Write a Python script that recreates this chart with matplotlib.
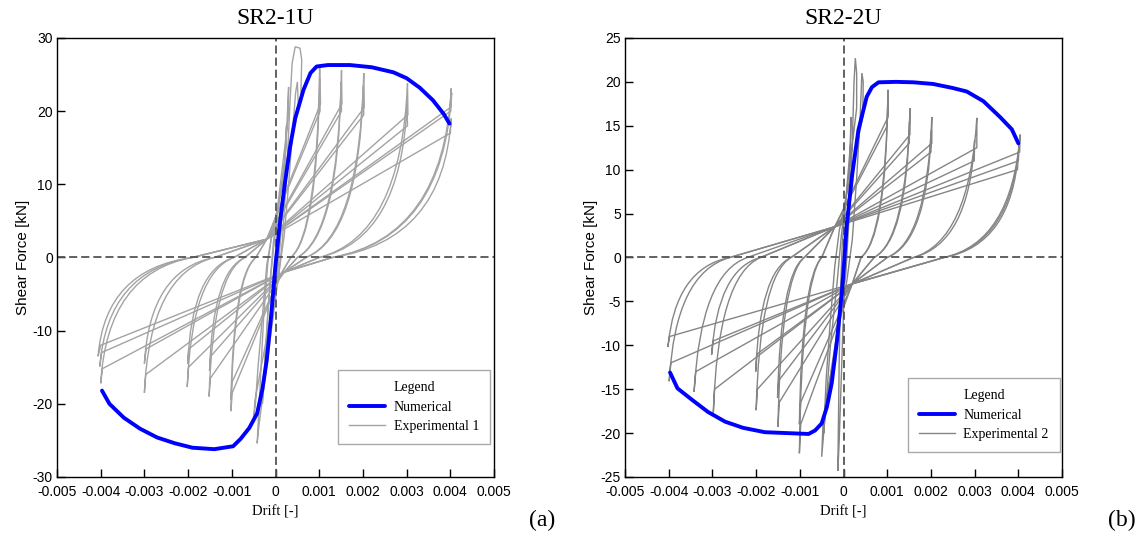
import numpy as np
import matplotlib
matplotlib.use("Agg")
import matplotlib.pyplot as plt
from matplotlib.path import Path
from matplotlib.patches import PathPatch

plt.rcParams['font.family'] = ['Liberation Sans', 'DejaVu Sans']
plt.rcParams['axes.unicode_minus'] = False

SERIF = ['Liberation Serif', 'DejaVu Serif']

# drift values are in 1e-3 (per mille), forces in kN
xticks = [-0.005, -0.004, -0.003, -0.002, -0.001, 0, 0.001, 0.002, 0.003, 0.004, 0.005]
xtick_labels = ['-0.005', '-0.004', '-0.003', '-0.002', '-0.001', '0',
                '0.001', '0.002', '0.003', '0.004', '0.005']
yticks_1 = [-30, -20, -10, 0, 10, 20, 30]
yticks_2 = [-25, -20, -15, -10, -5, 0, 5, 10, 15, 20, 25]

# SR2-1U numerical backbone
num1_drift = [-3.97, -3.8, -3.47, -3.1, -2.71, -2.3, -1.9, -1.4, -0.97, -0.8, -0.6, -0.42,
              -0.3, -0.2, -0.1, 0.0, 0.1, 0.2, 0.33, 0.45, 0.64, 0.8, 0.94, 1.2, 1.7,
              2.2, 2.7, 3.0, 3.3, 3.6, 3.85, 3.98]
num1_force = [-18.2, -20.0, -21.9, -23.4, -24.6, -25.4, -26.0, -26.2, -25.8, -24.8, -23.3,
              -21.3, -18.0, -14.0, -8.0, -1.0, 4.7, 9.5, 15.0, 19.0, 22.9, 25.2, 26.1, 26.3,
              26.3, 26.0, 25.3, 24.5, 23.2, 21.5, 19.6, 18.3]

# SR2-2U numerical backbone
num2_drift = [-3.97, -3.8, -3.47, -3.1, -2.71, -2.3, -1.8, -1.3, -0.8, -0.65, -0.5, -0.38,
              -0.27, -0.15, -0.04, 0.0, 0.07, 0.2, 0.34, 0.53, 0.65, 0.8, 1.2, 1.6, 2.05,
              2.5, 2.82, 3.2, 3.58, 3.85, 4.0]
num2_force = [-13.1, -14.9, -16.2, -17.6, -18.7, -19.4, -19.9, -20.0, -20.1, -19.7, -18.9,
              -17.0, -14.3, -9.5, -4.0, -1.5, 3.5, 9.5, 14.5, 18.3, 19.4, 19.95, 20.0, 19.95,
              19.76, 19.3, 18.9, 17.8, 16.0, 14.6, 13.0]

# experimental cycles: (drift, force) vertices; a third item 'c' marks a curve control point
exp1_cycles = [
    [(0.04, -1.5), (0.1, 2), (0.17, 8), (0.22, 14), (0.25, 18), (0.24, 15), (-0.04, 1.5),
     (-0.1, -2), (-0.17, -7), (-0.22, -12), (-0.25, -15), (-0.23, -12.5), (0.04, -1.5)],
    [(0.05, -2), (0.12, 3), (0.2, 11), (0.26, 18), (0.3, 23.3), (0.29, 19), (-0.05, 2),
     (-0.12, -3), (-0.2, -10), (-0.26, -16), (-0.3, -20), (-0.28, -17), (0.05, -2)],
    [(0.08, -2), (0.16, 2.5), (0.26, 12), (0.33, 21), (0.38, 26.5), (0.45, 28.8), (0.56, 28.6),
     (0.6, 27), (0.58, 22), (-0.1, 2.5), (-0.18, -1), (-0.27, -8), (-0.34, -16), (-0.39, -22),
     (-0.42, -25.4), (-0.38, -23), (0.08, -2)],
    [(0.08, -2), (0.2, 3), (0.3, 10), (0.4, 18), (0.46, 22.5), (0.5, 24), (0.52, 21), (-0.1, 2.5),
     (-0.2, -1), (-0.3, -8), (-0.4, -15), (-0.46, -20), (-0.5, -22), (-0.47, -19.5), (0.08, -2)],
    [(0.15, -2), (0.35, 0), (0.96, 3.2, 'c'), (1.01, 26.3), (1.03, 21), (-0.2, 2.5), (-0.45, 0),
     (-0.96, -2.5, 'c'), (-1.02, -21), (-0.99, -18.5), (0.15, -2)],
    [(0.15, -2), (0.35, 0), (0.96, 2.9, 'c'), (1.01, 24.5), (1.02, 20), (-0.2, 2.5), (-0.45, 0),
     (-0.96, -2.3, 'c'), (-1.02, -19.5), (-0.99, -17), (0.15, -2)],
    [(0.2, -2), (0.5, 0), (1.44, 3.1, 'c'), (1.51, 25.6), (1.52, 21), (-0.2, 2.5), (-0.7, 0),
     (-1.44, -2.3, 'c'), (-1.52, -19), (-1.49, -16.5), (0.2, -2)],
    [(0.2, -2), (0.5, 0), (1.44, 2.9, 'c'), (1.5, 24), (1.51, 20), (-0.2, 2.5), (-0.7, 0),
     (-1.44, -1.9, 'c'), (-1.51, -15.5), (-1.48, -13.5), (0.2, -2)],
    [(0.2, -2), (0.7, 0), (1.92, 3.0, 'c'), (2.02, 25.2), (2.03, 20.5), (-0.2, 2.5), (-0.95, 0),
     (-1.92, -2.1, 'c'), (-2.02, -17.7), (-1.99, -15), (0.2, -2)],
    [(0.2, -2), (0.7, 0), (1.92, 2.8, 'c'), (2.01, 23.5), (2.02, 19.5), (-0.2, 2.5), (-0.95, 0),
     (-1.92, -1.7, 'c'), (-2.01, -14.5), (-1.98, -12.5), (0.2, -2)],
    [(0.2, -2), (1.0, 0), (2.88, 2.9, 'c'), (3.02, 23.8), (3.03, 19.5), (-0.2, 2.5), (-1.4, 0),
     (-2.88, -2.2, 'c'), (-3.0, -18.5), (-2.97, -16), (0.2, -2)],
    [(0.2, -2), (1.0, 0), (2.88, 2.5, 'c'), (3.01, 21), (3.02, 18), (-0.2, 2.5), (-1.4, 0),
     (-2.88, -1.7, 'c'), (-3.0, -14.5), (-2.96, -12.5), (0.2, -2)],
    [(0.2, -2), (1.3, 0), (3.85, 2.8, 'c'), (4.02, 23.1), (4.0, 20.5), (-0.2, 2.5), (-1.9, 0),
     (-3.85, -2.1, 'c'), (-4.0, -17.2), (-3.96, -15.2), (0.2, -2)],
    [(0.2, -2), (1.3, 0), (3.85, 2.7, 'c'), (4.03, 22.5), (4.01, 20), (-0.2, 2.5), (-1.9, 0),
     (-3.85, -1.8, 'c'), (-4.02, -14.9), (-3.98, -13), (0.2, -2)],
    [(0.2, -2), (1.3, 0), (3.85, 2.3, 'c'), (4.02, 19), (4.0, 17), (-0.2, 2.5), (-1.9, 0),
     (-3.9, -1.6, 'c'), (-4.06, -13.5), (-4.0, -12), (0.2, -2)],
]

exp2_cycles = [
    [(0.03, -1.5), (0.08, 2), (0.13, 8), (0.17, 16), (0.16, 13), (-0.03, 1.5), (-0.07, -4),
     (-0.1, -12), (-0.12, -20), (-0.13, -24.3), (-0.1, -21), (0.03, -1.5)],
    [(0.05, -2), (0.12, 4), (0.2, 13), (0.24, 20), (0.27, 22.7), (0.3, 21), (0.3, 17),
     (-0.05, 2.5), (-0.15, -3), (-0.3, -10), (-0.42, -18), (-0.5, -22.7), (-0.47, -19),
     (0.05, -2)],
    [(0.08, -2.5), (0.2, 2), (0.3, 9), (0.38, 16), (0.42, 21), (0.45, 20), (0.44, 16),
     (-0.1, 3), (-0.2, -1), (-0.3, -7), (-0.4, -14), (-0.45, -20), (-0.42, -17), (0.08, -2.5)],
    [(0.2, -3), (0.4, 0), (0.96, 2.3, 'c'), (1.02, 19.1), (1.02, 16), (-0.2, 3.5), (-0.5, 0),
     (-0.96, -2.7, 'c'), (-1.01, -22.3), (-0.98, -19), (0.2, -3)],
    [(0.2, -3), (0.4, 0), (0.96, 2.1, 'c'), (1.01, 17.5), (1.0, 15), (-0.2, 3.5), (-0.5, 0),
     (-0.96, -2.3, 'c'), (-1.01, -19), (-0.98, -16.5), (0.2, -3)],
    [(0.2, -3), (0.7, 0), (1.44, 2.0, 'c'), (1.52, 17), (1.52, 14), (-0.2, 3.5), (-0.9, 0),
     (-1.44, -2.3, 'c'), (-1.5, -19.3), (-1.47, -16.5), (0.2, -3)],
    [(0.2, -3), (0.7, 0), (1.44, 1.9, 'c'), (1.51, 15.5), (1.5, 13), (-0.2, 3.5), (-0.9, 0),
     (-1.44, -1.9, 'c'), (-1.51, -16), (-1.48, -14), (0.2, -3)],
    [(0.2, -3), (1.0, 0), (1.92, 1.9, 'c'), (2.02, 16), (2.02, 13), (-0.2, 3.5), (-1.2, 0),
     (-1.92, -2.1, 'c'), (-2.0, -17.4), (-1.97, -15), (0.2, -3)],
    [(0.2, -3), (1.0, 0), (1.92, 1.7, 'c'), (2.01, 14.5), (2.0, 12), (-0.2, 3.5), (-1.2, 0),
     (-1.92, -1.6, 'c'), (-2.01, -13), (-1.98, -11), (0.2, -3)],
    [(0.2, -3), (1.6, 0), (2.88, 1.9, 'c'), (3.05, 15.9), (3.05, 12.5), (-0.2, 3.5), (-1.9, 0),
     (-2.88, -2.1, 'c'), (-2.98, -17.7), (-2.95, -15), (0.2, -3)],
    [(0.2, -3), (1.6, 0), (2.88, 1.6, 'c'), (3.0, 13.4), (2.99, 11), (-0.2, 3.5), (-1.9, 0),
     (-2.88, -1.3, 'c'), (-3.02, -11.1), (-2.98, -9.5), (0.2, -3)],
    [(0.2, -3), (2.3, 0), (3.85, 1.7, 'c'), (4.04, 14), (4.03, 12), (-0.2, 3.5), (-2.2, 0),
     (-3.27, -1.8, 'c'), (-3.42, -15.3), (-3.38, -13), (0.2, -3)],
    [(0.2, -3), (2.3, 0), (3.85, 1.6, 'c'), (4.02, 13), (4.0, 11), (-0.2, 3.5), (-2.6, 0),
     (-3.85, -1.7, 'c'), (-3.99, -14.1), (-3.95, -12), (0.2, -3)],
    [(0.2, -3), (2.3, 0), (3.85, 1.4, 'c'), (4.0, 12), (3.98, 10), (-0.2, 3.5), (-2.6, 0),
     (-3.85, -1.2, 'c'), (-4.02, -10.2), (-3.98, -9), (0.2, -3)],
]


def cycle_path(pts):
    verts, codes = [], []
    after_ctrl = False
    for k, p in enumerate(pts):
        verts.append((p[0] * 1e-3, p[1]))
        if k == 0:
            codes.append(Path.MOVETO)
        elif len(p) == 3:
            codes.append(Path.CURVE3)
            after_ctrl = True
            continue
        elif after_ctrl:
            codes.append(Path.CURVE3)
        else:
            codes.append(Path.LINETO)
        after_ctrl = False
    return Path(verts, codes)


def draw_panel(ax, cycles, num_d, num_f, exp_color, exp_label, title, yticks, ylim):
    for cyc in cycles:
        ax.add_patch(PathPatch(cycle_path(cyc), fill=False, edgecolor=exp_color,
                               lw=1.0, zorder=2))
    ax.plot([], [], color=exp_color, lw=1.0, label=exp_label)
    ax.axhline(0, color='#555555', lw=1.3, dashes=(4.5, 2.2), zorder=2.5)
    ax.axvline(0, color='#555555', lw=1.3, dashes=(4.5, 2.2), zorder=2.5)
    ax.plot(np.array(num_d) * 1e-3, num_f, color='#0000ff', lw=2.8,
            solid_capstyle='round', solid_joinstyle='round', zorder=3, label='Numerical')

    ax.set_xlim(-0.005, 0.005)
    ax.set_ylim(*ylim)
    ax.set_xticks(xticks)
    ax.set_xticklabels(xtick_labels)
    ax.set_yticks(yticks)
    ax.tick_params(direction='in', length=6, width=1, labelsize=10, pad=3)
    ax.tick_params(axis='x', pad=5.5)
    for s in ax.spines.values():
        s.set_linewidth(1.0)
    ax.set_xlabel('Drift [-]', family=SERIF, fontsize=10.5, labelpad=5)
    ax.set_ylabel('Shear Force [kN]', fontsize=11, labelpad=2)
    ax.set_title(title, family=SERIF, fontsize=17, pad=10)


fig = plt.figure(figsize=(11.42, 5.4), dpi=100)
ax1 = fig.add_axes([0.0499, 0.1167, 0.3827, 0.813])
ax2 = fig.add_axes([0.5473, 0.1167, 0.3827, 0.813])

draw_panel(ax1, exp1_cycles, num1_drift, num1_force, '#a3a3a3', 'Experimental 1',
           'SR2-1U', yticks_1, (-30, 30))
draw_panel(ax2, exp2_cycles, num2_drift, num2_force, '#858585', 'Experimental 2',
           'SR2-2U', yticks_2, (-25, 25))

for ax, anchor in [(ax1, (0.991, 0.075)), (ax2, (0.995, 0.057))]:
    h, l = ax.get_legend_handles_labels()
    order = [l.index('Numerical'), 1 - l.index('Numerical')]
    leg = ax.legend([h[k] for k in order], [l[k] for k in order], title='Legend',
                    loc='lower right', bbox_to_anchor=anchor, borderaxespad=0,
                    prop={'family': SERIF, 'size': 10},
                    title_fontproperties={'family': SERIF, 'size': 10},
                    fancybox=False, edgecolor='#aaaaaa', framealpha=1,
                    handlelength=2.6, handletextpad=0.6, borderpad=0.8,
                    labelspacing=0.45)
    leg.get_frame().set_linewidth(1.0)

fig.text(0.475, 0.037, '(a)', family=SERIF, fontsize=17, ha='center', va='center')
fig.text(0.982, 0.037, '(b)', family=SERIF, fontsize=17, ha='center', va='center')

fig.savefig('out.png', dpi=100)
